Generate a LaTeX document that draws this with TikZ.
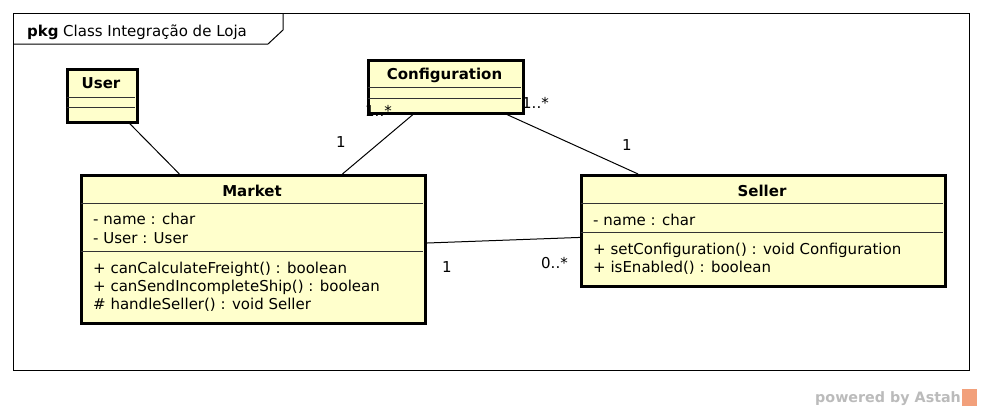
\documentclass[tikz,border=0pt]{standalone}
\usepackage{fontspec}
\setmainfont{DejaVu Sans}
\definecolor{clsfill}{HTML}{FFFFCC}
\definecolor{wmgray}{HTML}{BBBBBB}
\definecolor{astahorange}{HTML}{F2A07B}
\begin{document}
\begin{tikzpicture}[x=1pt,y=-1pt,
  cls/.style={draw=black,line width=2.6pt,fill=clsfill,rectangle,anchor=north west,inner sep=0pt},
  sep/.style={line width=0.9pt,draw=black!80},
  txt/.style={font=\fontsize{15}{18}\selectfont,inner sep=0pt,anchor=base west},
  hdr/.style={font=\fontsize{15}{18}\selectfont\bfseries,inner sep=0pt,anchor=base},
  mult/.style={font=\fontsize{15}{18}\selectfont,inner sep=0pt,anchor=base west},
  conn/.style={line width=1pt,draw=black}]
\useasboundingbox (0,0) rectangle (982,410);
\fill[white] (0,0) rectangle (982,410);
% frame
\draw[line width=1pt] (13,13) rectangle (969,370);
\draw[line width=1pt] (13,44) -- (268,44) -- (283,30) -- (283,13);
\node[font=\fontsize{15}{18}\selectfont\bfseries,inner sep=0pt,anchor=base west] (pkg) at (27,36.5) {pkg};
\node[txt] (title) at (63,36.5) {Class Integração de Loja};
% multiplicity labels
\node[mult] (m2) at (522,108.5) {1..*};
\node[mult] (m3) at (336,147) {1};
\node[mult] (m4) at (622,150) {1};
\node[mult] (m5) at (442,272) {1};
\node[mult] (m6) at (541,268) {0..*};
% classes
\node[cls,minimum width=70,minimum height=53] (user) at (66,68) {};
\node[cls,minimum width=155,minimum height=53] (config) at (367,59) {};
\node[cls,minimum width=344,minimum height=148] (market) at (80,174) {};
\node[cls,minimum width=364,minimum height=111] (seller) at (580,174) {};
% connectors
\draw[conn] (user) -- (market);
\draw[conn] (config) -- (market);
\draw[conn] (config) -- (seller);
\draw[conn] (market) -- (seller);
% compartments
\draw[sep] (67,97.5) -- (135,97.5);
\draw[sep] (67,107.5) -- (135,107.5);
\draw[sep] (368,87.5) -- (521,87.5);
\draw[sep] (368,98) -- (521,98);
\draw[sep] (81,203) -- (423,203);
\draw[sep] (81,251) -- (423,251);
\draw[sep] (581,203) -- (943,203);
\draw[sep] (581,232.5) -- (943,232.5);
% label drawn over the Configuration box
\node[mult] (m1) at (365,116.5) {1..*};
% texts
\node[hdr] (userh) at (101,88) {User};
\node[hdr] (configh) at (444.5,79) {Configuration};
\node[hdr] (marketh) at (252,196.5) {Market};
\node[hdr] (sellerh) at (762,196.5) {Seller};
\node[txt] (ma1) at (93,224.5) {- name : char};
\node[txt] (ma2) at (93,243) {- User : User};
\node[txt] (mo1) at (93,273) {+ canCalculateFreight() : boolean};
\node[txt] (mo2) at (93,291) {+ canSendIncompleteShip() : boolean};
\node[txt] (mo3) at (93,309) {\# handleSeller() : void Seller};
\node[txt] (sa1) at (593,225) {- name : char};
\node[txt] (so1) at (593,254) {+ setConfiguration() : void Configuration};
\node[txt] (so2) at (593,272) {+ isEnabled() : boolean};
% watermark
\node[font=\fontsize{14.3}{16}\selectfont\bfseries,text=wmgray,inner sep=0pt,anchor=base west] (wm) at (815,402) {powered by Astah};
\node[fill=astahorange,minimum width=15,minimum height=17,inner sep=0pt,anchor=north west] (logo) at (962,389) {};
\end{tikzpicture}
\end{document}
